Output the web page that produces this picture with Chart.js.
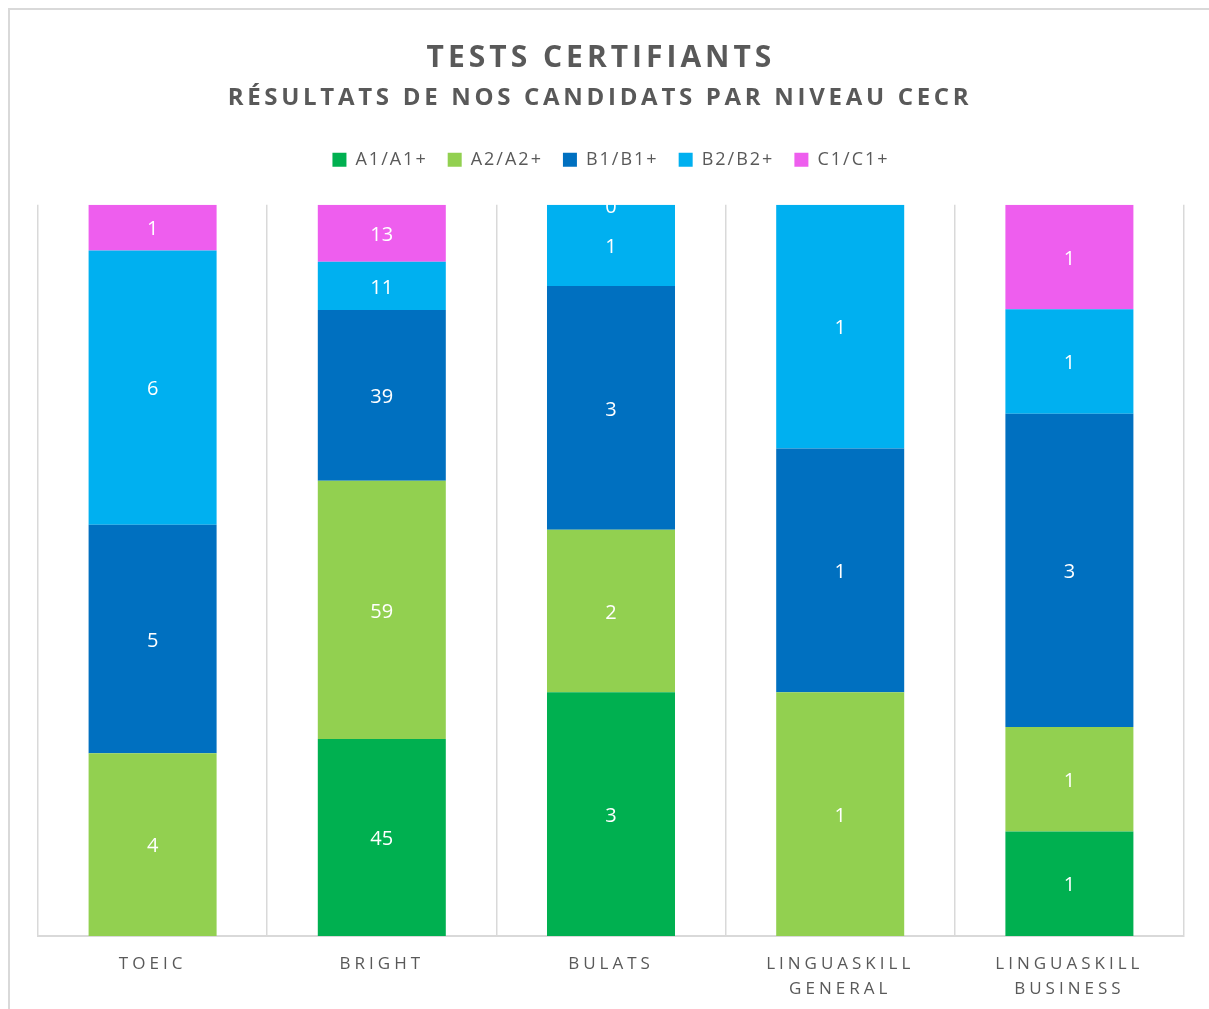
<!DOCTYPE html>
<html>
<head>
<meta charset="utf-8">
<script src="https://cdn.jsdelivr.net/npm/chart.js@4.4.1/dist/chart.umd.min.js"></script>
<style>
  html, body { margin: 0; padding: 0; background: #fff; }
  canvas { display: block; }
</style>
</head>
<body>
<canvas id="chart" width="1209" height="1009"></canvas>
<script>
// Data (candidate counts per test and CEFR level)
const tests = [['TOEIC'], ['BRIGHT'], ['BULATS'], ['LINGUASKILL', 'GENERAL'], ['LINGUASKILL', 'BUSINESS']];
const levels = ['A1/A1+', 'A2/A2+', 'B1/B1+', 'B2/B2+', 'C1/C1+'];
const a1 = [null, 45, 3, null, 1];
const a2 = [4, 59, 2, 1, 1];
const b1 = [5, 39, 3, 1, 3];
const b2 = [6, 11, 1, 1, 1];
const c1 = [1, 13, 0, null, 1];
const colors = ['#00B050', '#92D050', '#0070C0', '#00B0F0', '#EE5EEE'];

const titleText = 'TESTS CERTIFIANTS';
const subtitleText = 'RÉSULTATS DE NOS CANDIDATS PAR NIVEAU CECR';
const grey = '#595959';
const gridGrey = '#d9d9d9';

// 100% stacked: convert counts to shares of each test's total
const counts = [a1, a2, b1, b2, c1];
const totals = tests.map((_, j) => counts.reduce((s, arr) => s + (arr[j] || 0), 0));
const share = arr => arr.map((v, j) => v === null ? null : v / totals[j] * 100);

const datasets = counts.map((arr, i) => ({
  label: levels[i],
  data: share(arr),
  counts: arr,
  backgroundColor: colors[i],
  borderWidth: 0,
  barPercentage: 0.5585,
  categoryPercentage: 1
}));

// white count labels in the middle of each segment
const valueLabels = {
  id: 'valueLabels',
  afterDatasetsDraw(chart) {
    const ctx = chart.ctx;
    ctx.save();
    ctx.font = '20px "Open Sans"';
    ctx.fillStyle = '#ffffff';
    ctx.textAlign = 'center';
    ctx.textBaseline = 'middle';
    chart.data.datasets.forEach((ds, i) => {
      chart.getDatasetMeta(i).data.forEach((bar, j) => {
        const v = ds.counts[j];
        if (v === null) return;
        ctx.fillText(String(v), bar.x, (bar.y + bar.base) / 2 + 2);
      });
    });
    ctx.restore();
  }
};

// light frame around the chart
const frame = {
  id: 'frame',
  beforeDraw(chart) {
    const ctx = chart.ctx;
    ctx.save();
    ctx.strokeStyle = gridGrey;
    ctx.lineWidth = 2;
    ctx.strokeRect(9, 9, 1400, 1400);
    ctx.restore();
  }
};

const chart = new Chart(document.getElementById('chart'), {
  type: 'bar',
  data: { labels: tests, datasets: datasets },
  options: {
    responsive: false,
    animation: false,
    layout: { padding: { top: 40, left: 38, right: 25, bottom: 7 } },
    plugins: {
      title: {
        display: true,
        text: titleText,
        color: grey,
        font: { family: 'Open Sans', size: 30, weight: 'bold', lineHeight: 1.2 },
        padding: { top: 0, bottom: 0 }
      },
      subtitle: {
        display: true,
        text: subtitleText,
        color: grey,
        font: { family: 'Open Sans', size: 24, weight: 'bold', lineHeight: 1.2 },
        padding: { top: 8, bottom: 18 }
      },
      legend: {
        position: 'top',
        labels: {
          color: grey,
          font: { family: 'Open Sans', size: 18 },
          boxWidth: 14,
          boxHeight: 14,
          padding: 20
        }
      },
      tooltip: { enabled: false }
    },
    scales: {
      x: {
        stacked: true,
        grid: { color: gridGrey, lineWidth: 1.5, drawTicks: false, offset: true },
        border: { color: gridGrey, width: 2 },
        ticks: {
          color: grey,
          font: { family: 'Open Sans', size: 17, lineHeight: 1.5 },
          padding: 15,
          maxRotation: 0,
          autoSkip: false
        },
        afterFit: s => { s.height = 66; }
      },
      x2: {
        position: 'top',
        grid: { display: false },
        border: { display: false },
        ticks: { display: false },
        afterFit: s => { s.height = 26; }
      },
      y: {
        stacked: true,
        display: false,
        min: 0,
        max: 100
      }
    }
  },
  plugins: [frame, valueLabels]
});

// letter spacing (and a small horizontal shift) for title, subtitle, legend and category labels
function spaced(obj, method, px, dx) {
  const orig = obj[method];
  obj[method] = function () {
    const ctx = this.ctx;
    ctx.save();
    ctx.letterSpacing = px + 'px';
    if (dx) ctx.translate(dx, 0);
    const res = orig.apply(this, arguments);
    ctx.restore();
    return res;
  };
}
chart.boxes.forEach(box => {
  if (box === chart.legend) { spaced(box, 'fit', 2); spaced(box, 'draw', 2); }
  else if (box.id === 'x') spaced(box, 'drawLabels', 4);
  else if (box.options && box.options.text === titleText) spaced(box, 'draw', 4, -10);
  else if (box.options && box.options.text === subtitleText) spaced(box, 'draw', 3.7, -11);
});
chart.update();
</script>
</body>
</html>
